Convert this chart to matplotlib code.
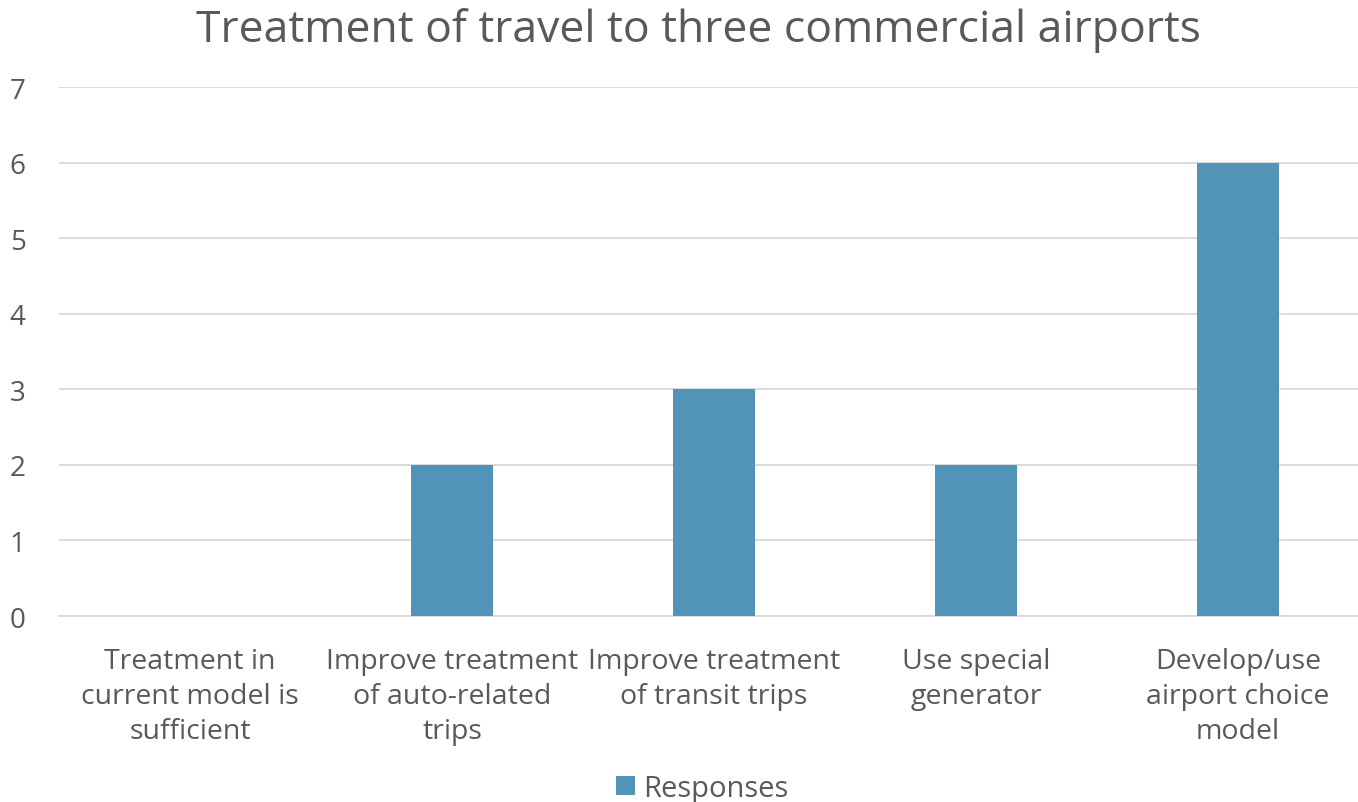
import matplotlib
matplotlib.use('Agg')
import matplotlib.pyplot as plt

categories = ['Treatment in\ncurrent model is\nsufficient',
              'Improve treatment\nof auto-related\ntrips',
              'Improve treatment\nof transit trips',
              'Use special\ngenerator',
              'Develop/use\nairport choice\nmodel']
responses = [0, 2, 3, 2, 6]

plt.rcParams['font.family'] = ['Open Sans', 'DejaVu Sans']
txt = '#595959'

fig = plt.figure(figsize=(13.58, 8.03), dpi=100)
ax = fig.add_axes([0.0434, 0.2316, 0.9647, 0.6588])
x = list(range(len(categories)))
ax.bar(x, responses, width=0.313, color='#5194B7', label='Responses', zorder=3)
ax.set_xlim(-0.5, len(categories) - 0.5)
ax.set_ylim(0, 7)
ax.set_yticks(range(0, 8))
ax.set_xticks(x)
ax.set_xticklabels(categories, fontsize=20.5, color=txt, linespacing=1.34)
ax.tick_params(axis='y', labelsize=20, colors=txt, length=0, pad=24)
ax.tick_params(axis='x', length=0, pad=22)
ax.grid(axis='y', color='#D9D9D9', linewidth=1.3, zorder=0)
for s in ['top', 'right', 'left']:
    ax.spines[s].set_visible(False)
ax.spines['bottom'].set_color('#D9D9D9')
ax.spines['bottom'].set_linewidth(1.3)

fig.text(0.514, 0.962, 'Treatment of travel to three commercial airports',
         ha='center', va='center', fontsize=32, color=txt)
fig.legend(loc='center', bbox_to_anchor=(0.517, 0.017), frameon=False,
           fontsize=21, labelcolor=txt, handlelength=0.65, handleheight=0.65,
           handletextpad=0.3)

fig.savefig('out.png', dpi=100)
